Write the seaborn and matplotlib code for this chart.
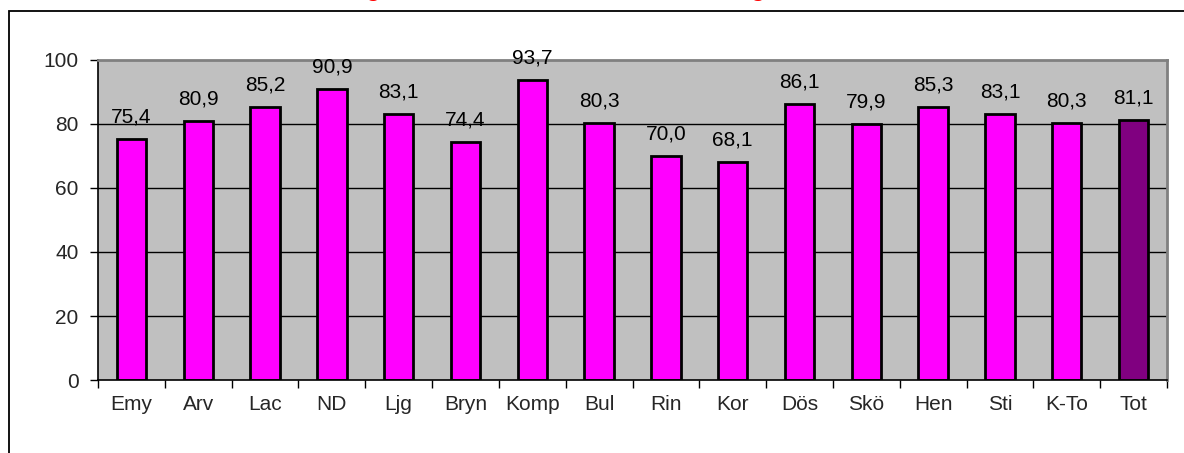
import matplotlib
matplotlib.use("Agg")
import matplotlib.pyplot as plt
import seaborn as sns
import pandas as pd
from matplotlib.patches import Rectangle
from matplotlib.ticker import FixedLocator, NullFormatter

categories = ["Emy", "Arv", "Lac", "ND", "Ljg", "Bryn", "Komp", "Bul", "Rin", "Kor",
              "Dös", "Skö", "Hen", "Sti", "K-To", "Tot"]
values = [75.4, 80.9, 85.2, 90.9, 83.1, 74.4, 93.7, 80.3, 70.0, 68.1,
          86.1, 79.9, 85.3, 83.1, 80.3, 81.1]
bar_colors = ["#FF00FF"] * 15 + ["#800080"]
y_ticks = [0, 20, 40, 60, 80, 100]
title_text = "Andel genomförda hälsobesök i Göteborg"

sns.set_theme(style="white")
plt.rcParams["font.family"] = ["Liberation Sans", "DejaVu Sans"]

W, H = 1184, 453
fig = plt.figure(figsize=(W / 100, H / 100), dpi=100)
ax = fig.add_axes([98 / W, 1 - 380 / H, (1167 - 98) / W, (380 - 60) / H])

df = pd.DataFrame({"cat": categories, "val": values})
sns.barplot(data=df, x="cat", y="val", hue="cat", palette=bar_colors, width=0.44,
            edgecolor="black", linewidth=2, legend=False, ax=ax, saturation=1)

ax.set_facecolor("#C0C0C0")
ax.set_xlim(-0.5, len(categories) - 0.5)
ax.set_ylim(0, 100)
ax.set_yticks(y_ticks)
ax.set_yticklabels([str(t) for t in y_ticks], fontsize=15)
for t in y_ticks[1:-1]:
    ax.axhline(t, color="black", lw=1, zorder=0.5)

ax.set_xticks(range(len(categories)))
ax.set_xticklabels(categories, fontsize=15)
ax.tick_params(axis="x", which="major", length=0, pad=11)
ax.xaxis.set_minor_locator(FixedLocator([i - 0.5 for i in range(len(categories) + 1)]))
ax.xaxis.set_minor_formatter(NullFormatter())
ax.tick_params(axis="x", which="minor", direction="out", length=6, width=1, color="black", bottom=True)
ax.tick_params(axis="y", direction="out", length=6, width=1, color="black", left=True, pad=8)
ax.set_xlabel("")
ax.set_ylabel("")

for s in ["left", "bottom"]:
    ax.spines[s].set_color("black")
    ax.spines[s].set_linewidth(1.2)
for s in ["top", "right"]:
    ax.spines[s].set_color("#808080")
    ax.spines[s].set_linewidth(2)

for i, v in enumerate(values):
    ax.annotate(f"{v:.1f}".replace(".", ","), (i, v), xytext=(0, 9),
                textcoords="offset points", ha="center", va="bottom", fontsize=15,
                color="black")

# outer chart border (cut off on right and bottom)
fig.patches.append(Rectangle((9 / W, -0.1), 1.2, 1 - 11 / H + 0.1, transform=fig.transFigure,
                             fill=False, edgecolor="black", lw=1.3))

# title mostly above the visible area
fig.text(530 / W, 1 + 4 / H, title_text, ha="center", va="baseline",
         fontsize=17, fontweight="bold", color="#FF0000")

fig.savefig("out.png", dpi=100)
